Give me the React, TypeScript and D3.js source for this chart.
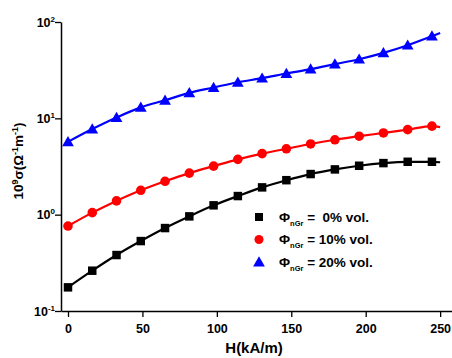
import React, { useEffect, useRef } from 'react';
import * as d3 from 'd3';

// H (kA/m)
const fieldH = [0, 16.3, 32.6, 48.9, 65.2, 81.5, 97.8, 114.1, 130.4, 146.7, 163, 179.3, 195.6, 211.9, 228.2, 244.5];
// 10^9 sigma for each volume fraction
const sigma0 = [0.176, 0.262, 0.381, 0.532, 0.726, 0.96, 1.25, 1.56, 1.92, 2.28, 2.64, 2.95, 3.22, 3.43, 3.54, 3.54];
const sigma10 = [0.762, 1.05, 1.39, 1.79, 2.22, 2.70, 3.19, 3.75, 4.30, 4.83, 5.42, 5.99, 6.53, 7.05, 7.63, 8.30];
const sigma20 = [5.70, 7.73, 10.2, 13.0, 15.4, 18.4, 20.9, 23.7, 26.1, 29.2, 32.4, 36.5, 41.1, 47.8, 57.4, 71.3];
// value of the fitted curve where it stops (H = 250)
const fitEndH = 250;
const fitEnd = [3.5, 8.1, 77];

const seriesLabels = ['0%', '10%', '20%'];
const seriesColors = ['#000000', '#ff0000', '#0000ff'];
const seriesShapes = [d3.symbolSquare, d3.symbolCircle, d3.symbolTriangle];

const xMajorTicks = [0, 50, 100, 150, 200, 250];
const xMinorTicks = [0, 10, 20, 30, 40, 50, 60, 70, 80, 90, 100, 110, 120, 130, 140, 150, 160, 170, 180, 190, 200, 210, 220, 230, 240, 250];
const yMajorTicks = [0.1, 1, 10, 100];
const yExponents = ['-1', '0', '1', '2'];

const FONT = '"Liberation Sans", Arial, sans-serif';

export default function App() {
  const svgRef = useRef<SVGSVGElement>(null);

  useEffect(() => {
    if (!svgRef.current) return;
    const svg = d3.select(svgRef.current);
    svg.selectAll('*').remove();

    const x = d3.scaleLinear().domain([-4.7, 262]).range([61, 458]);
    const y = d3.scaleLog().domain([0.1, 100]).range([311, 22]);

    const yMinor: number[] = [];
    [0.1, 1, 10].forEach(d => {
      for (let k = 2; k <= 9; k++) yMinor.push(d * k);
    });

    // x axis
    const gx = svg.append('g').attr('transform', `translate(0,${y(0.1)})`);
    gx.call(d3.axisBottom(x).tickValues(xMinorTicks).tickSize(3).tickFormat(() => '').tickSizeOuter(0));
    gx.call(d3.axisBottom(x).tickValues(xMajorTicks).tickSize(6).tickSizeOuter(0)
      .tickFormat(d => String(d)));
    gx.selectAll('path.domain').attr('stroke', '#000').attr('stroke-width', 1.5);
    gx.selectAll('line').attr('stroke', '#000').attr('stroke-width', 1.3);
    gx.selectAll('text')
      .attr('font-family', FONT).attr('font-weight', 'bold').attr('font-size', 12.5)
      .attr('fill', '#000').attr('dy', '1.05em');

    // y axis
    const gy = svg.append('g').attr('transform', `translate(${x(-4.7)},0)`);
    gy.call(d3.axisLeft(y).tickValues(yMinor).tickSize(3).tickFormat(() => '').tickSizeOuter(0));
    gy.call(d3.axisLeft(y).tickValues(yMajorTicks).tickSize(6).tickSizeOuter(0).tickFormat(() => ''));
    gy.selectAll('path.domain').attr('stroke', '#000').attr('stroke-width', 1.5);
    gy.selectAll('line').attr('stroke', '#000').attr('stroke-width', 1.3);

    yMajorTicks.forEach((v, i) => {
      const t = svg.append('text')
        .attr('x', 55).attr('y', y(v) + 4.5)
        .attr('text-anchor', 'end')
        .attr('font-family', FONT).attr('font-weight', 'bold').attr('font-size', 12.5)
        .attr('fill', '#000');
      t.append('tspan').text('10');
      t.append('tspan').attr('font-size', 8).attr('dy', -5).text(yExponents[i]);
    });

    // axis titles
    svg.append('text')
      .attr('x', x(125)).attr('y', 353)
      .attr('text-anchor', 'middle')
      .attr('font-family', FONT).attr('font-weight', 'bold').attr('font-size', 15)
      .text('H(kA/m)');

    const yt = svg.append('text')
      .attr('transform', 'translate(23,161) rotate(-90)')
      .attr('text-anchor', 'middle')
      .attr('font-family', FONT).attr('font-weight', 'bold').attr('font-size', 13.5);
    yt.append('tspan').text('10');
    yt.append('tspan').attr('font-size', 9).attr('dy', -5).text('9');
    yt.append('tspan').attr('dy', 5).text('σ(Ω');
    yt.append('tspan').attr('font-size', 9).attr('dy', -5).text('-1');
    yt.append('tspan').attr('dy', 5).text('m');
    yt.append('tspan').attr('font-size', 9).attr('dy', -5).text('-1');
    yt.append('tspan').attr('dy', 5).text(')');

    // curves and markers
    const all = [sigma0, sigma10, sigma20];
    const line = d3.line<[number, number]>()
      .x(d => x(d[0]))
      .y(d => y(d[1]))
      .curve(d3.curveMonotoneX);

    all.forEach((vals, si) => {
      const pts: [number, number][] = fieldH.map((h, i) => [h, vals[i]]);
      pts.push([fitEndH, fitEnd[si]]);
      svg.append('path')
        .datum(pts)
        .attr('fill', 'none')
        .attr('stroke', seriesColors[si])
        .attr('stroke-width', 2.2)
        .attr('d', line);

      const sym = d3.symbol().type(seriesShapes[si]).size(si === 2 ? 60 : 72);
      svg.append('g').selectAll('path')
        .data(vals)
        .enter()
        .append('path')
        .attr('transform', (d, i) => `translate(${x(fieldH[i])},${y(d) + (si === 2 ? 1 : 0)})`)
        .attr('d', sym()!)
        .attr('fill', seriesColors[si]);
    });

    // legend
    const legendY = [217, 239.5, 262];
    seriesLabels.forEach((lab, si) => {
      const sym = d3.symbol().type(seriesShapes[si]).size(si === 2 ? 60 : 64);
      svg.append('path')
        .attr('transform', `translate(259,${legendY[si] + (si === 2 ? 1 : 0)})`)
        .attr('d', sym()!)
        .attr('fill', seriesColors[si]);
      const t = svg.append('text')
        .attr('x', 279).attr('y', legendY[si] + 4.5)
        .attr('font-family', FONT).attr('font-weight', 'bold').attr('font-size', 13.5)
        .attr('fill', '#000')
        .attr('xml:space', 'preserve')
        .style('white-space', 'pre');
      t.append('tspan').text('Φ');
      t.append('tspan').attr('font-size', 7.5).attr('dy', 4).text('nGr');
      t.append('tspan').attr('dy', -4).text(lab.length === 2 ? ' =  ' + lab + ' vol.' : ' = ' + lab + ' vol.');
    });
  }, []);

  return (
    <svg
      ref={svgRef}
      width={452}
      height={358}
      style={{ position: 'absolute', left: 0, top: 0, background: '#fff' }}
    />
  );
}
